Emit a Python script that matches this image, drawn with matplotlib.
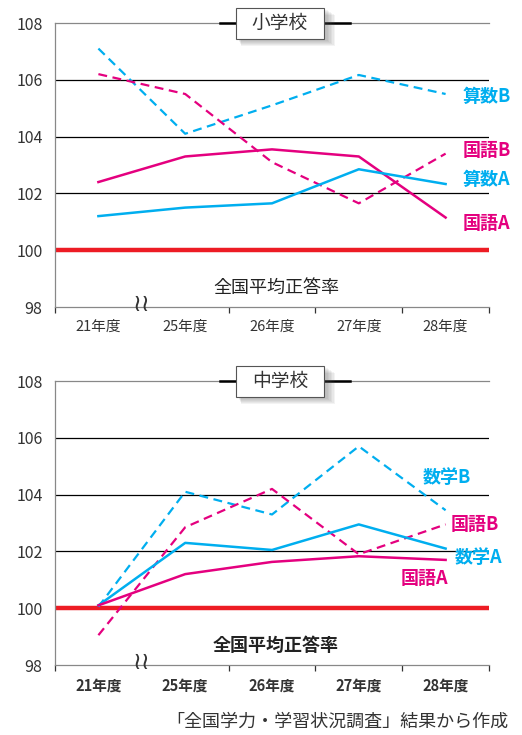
import matplotlib
matplotlib.use('Agg')
import matplotlib.pyplot as plt
from matplotlib.patches import Rectangle

plt.rcParams['font.family'] = ['Noto Sans CJK JP', 'DejaVu Sans']

years = ['21年度', '25年度', '26年度', '27年度', '28年度']

# 小学校
elem_kokugo_a = [102.4, 103.3, 103.55, 103.3, 101.15]
elem_kokugo_b = [106.2, 105.5, 103.1, 101.65, 103.4]
elem_sansu_a = [101.2, 101.5, 101.65, 102.85, 102.33]
elem_sansu_b = [107.1, 104.1, 105.1, 106.17, 105.5]

# 中学校
mid_kokugo_a = [100.1, 101.2, 101.63, 101.83, 101.7]
mid_kokugo_b = [99.05, 102.85, 104.2, 101.9, 102.95]
mid_sugaku_a = [100.1, 102.3, 102.05, 102.95, 102.1]
mid_sugaku_b = [100.05, 104.1, 103.3, 105.7, 103.45]

cyan = '#00aeef'
magenta = '#e4007f'
red = '#ed1c24'
grey = '#333333'

W, H = 522, 735
fig = plt.figure(figsize=(W / 100, H / 100), dpi=100)
ax1 = fig.add_axes([55 / W, 1 - 307 / H, 434 / W, 284 / H])
ax2 = fig.add_axes([55 / W, 1 - 665 / H, 434 / W, 284 / H])


def title_box(ax, title, top_px):
    # box in pixel layout of the figure, with a soft shadow
    x0, x1 = 236, 324
    y0, y1 = top_px - 15, top_px + 16
    for i in range(6, 0, -1):
        fig.patches.append(Rectangle(((x0 + 2 + i * 0.5) / W, 1 - (y1 + 1 + i) / H),
                                     (x1 - x0 + i) / W, (y1 - y0) / H,
                                     transform=fig.transFigure, fc='#555555',
                                     ec='none', alpha=0.07, zorder=10))
    fig.patches.append(Rectangle((x0 / W, 1 - y1 / H), (x1 - x0) / W, (y1 - y0) / H,
                                 transform=fig.transFigure, fc='white', ec='#555555',
                                 lw=0.8, zorder=11))
    fig.text((x0 + x1) / 2 / W, 1 - (y0 + y1) / 2 / H, title, ha='center', va='center',
             fontsize=13.5, color=grey, zorder=12)


def setup(ax, title, bold, top_px):
    ax.set_xlim(-0.5, 4.5)
    ax.set_ylim(98, 108)
    ax.set_yticks([98, 100, 102, 104, 106, 108])
    for v in [102, 104, 106]:
        ax.axhline(v, color='black', lw=0.9, zorder=1)
    ax.axhline(100, color=red, lw=3.2, zorder=2)
    ax.set_xticks(list(range(len(years))))
    ax.set_xticklabels(years, fontweight='bold' if bold else 'normal')
    ax.set_xticks([-0.5, 1.5, 2.5, 3.5, 4.5], minor=True)
    ax.tick_params(axis='x', which='major', length=0, pad=9, labelsize=10.5, labelcolor=grey)
    ax.tick_params(axis='x', which='minor', length=4, width=0.9, color=grey, direction='out')
    ax.tick_params(axis='y', length=0, pad=9, labelsize=11.5, labelcolor=grey)
    for s in ['left', 'top', 'bottom']:
        ax.spines[s].set_color('#888888')
        ax.spines[s].set_linewidth(0.9)
    ax.spines['right'].set_visible(False)
    ax.axhline(108, xmin=(220 - 55) / 434, xmax=(350 - 55) / 434, color='black', lw=1.8,
               zorder=3, clip_on=False)
    title_box(ax, title, top_px)
    ax.text(0.509, 0.067, '全国平均正答率', transform=ax.transAxes, ha='center', va='center',
            fontsize=13, color='#222222', fontweight='bold' if bold else 'normal')
    # axis break mark
    ax.text(0.5, 98.1, '≀≀', ha='center', va='center', fontsize=17, color=grey,
            family=['DejaVu Sans'], clip_on=False)


setup(ax1, '小学校', False, 23)
setup(ax2, '中学校', True, 381)

x = range(len(years))
dash = (0, (4, 2.5))
ax1.plot(x, elem_sansu_b, color=cyan, lw=1.6, ls=dash, zorder=4)
ax1.plot(x, elem_kokugo_b, color=magenta, lw=1.6, ls=dash, zorder=4)
ax1.plot(x, elem_kokugo_a, color=magenta, lw=1.8, zorder=4)
ax1.plot(x, elem_sansu_a, color=cyan, lw=1.8, zorder=4)

ax2.plot(x, mid_sugaku_b, color=cyan, lw=1.6, ls=dash, zorder=4)
ax2.plot(x, mid_kokugo_b, color=magenta, lw=1.6, ls=dash, zorder=4)
ax2.plot(x, mid_sugaku_a, color=cyan, lw=1.8, zorder=4)
ax2.plot(x, mid_kokugo_a, color=magenta, lw=1.8, zorder=4)

lab = dict(fontsize=13, fontweight='bold', va='center', ha='left', clip_on=False)
ax1.text(4.2, 105.4, '算数B', color=cyan, **lab)
ax1.text(4.2, 103.5, '国語B', color=magenta, **lab)
ax1.text(4.2, 102.5, '算数A', color=cyan, **lab)
ax1.text(4.2, 100.95, '国語A', color=magenta, **lab)

ax2.text(3.74, 104.6, '数学B', color=cyan, **lab)
ax2.text(4.06, 102.95, '国語B', color=magenta, **lab)
ax2.text(4.1, 101.8, '数学A', color=cyan, **lab)
ax2.text(3.48, 101.05, '国語A', color=magenta, **lab)

fig.text(508 / W, 1 - 722 / H, '「全国学力・学習状況調査」結果から作成', ha='right', va='center',
         fontsize=13, color=grey)

fig.savefig('out.png', dpi=100)
